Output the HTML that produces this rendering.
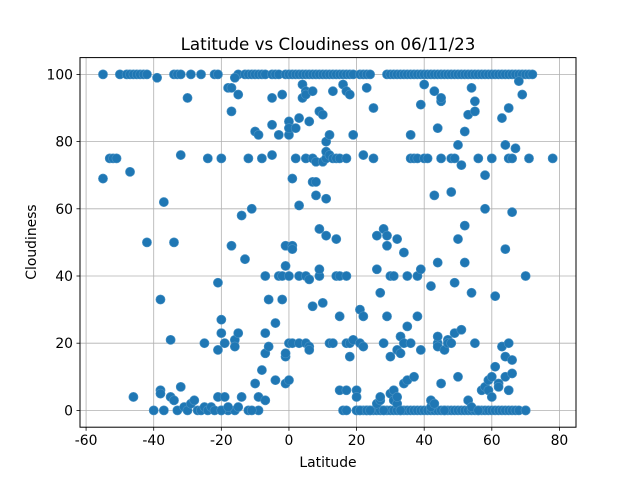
<!DOCTYPE html>
<html><head><meta charset="utf-8"><style>
body{margin:0;background:#fff;}
svg{display:block;font-family:"DejaVu Sans","Liberation Sans",sans-serif;}
</style></head><body>
<svg id="chart" width="640" height="480">
<rect width="640" height="480" fill="#fff"/>
<g id="grid"></g>
<g id="points"></g>
<rect x="80" y="57.6" width="496" height="369.6" fill="none" stroke="#000" stroke-width="1"/>
<g id="ticks"></g>
<text x="328" y="50" text-anchor="middle" font-size="16.7">Latitude vs Cloudiness on 06/11/23</text>
<text x="328" y="467" text-anchor="middle" font-size="13.9">Latitude</text>
<text x="36" y="242" text-anchor="middle" font-size="13.9" transform="rotate(-90 36 242)">Cloudiness</text>
</svg>
<script>
const xTicks=[-60,-40,-20,0,20,40,60,80];
const yTicks=[0,20,40,60,80,100];
const topLats=[-55,-50,-48,-47,-46,-45,-44,-43,-42,-34,-33,-32,-29,-26,-22,-21,-15,-13,-12,-11,-10,-9,-8,-7,-5,-4,-3,-1,0,1,2,3,4,5,6,7,8,9,10,11,12,13,14,15,16,17,18,19,21,22,23,24,29,30,31,32,33,34,35,36,37,38,39,40,41,42,43,44,45,46,47,48,49,50,51,52,53,54,55,56,57,58,59,60,61,62,63,64,65,66,67,68,69,70,71,72];
const zeroLats=[-20,-18,-16,-12,-9,20,21,22,23,24,25,26,27,28,29,30,31,32,33,34,35,36,37,38,39,40,41,42,43,44,45,46,47,48,49,50,51,52,53,54,55,56,57,58,59,60,61,62,63,64,65,66,67,68,70];
const otherLats=[-55,-53,-52,-51,-47,-46,-42,-40,-39,-38,-38,-38,-37,-37,-35,-35,-34,-34,-33,-32,-32,-31,-30,-30,-29,-28,-27,-26,-25,-25,-24,-24,-23,-22,-21,-21,-21,-20,-20,-20,-20,-19,-19,-18,-18,-17,-17,-17,-16,-16,-16,-15,-15,-15,-14,-14,-13,-12,-11,-11,-10,-10,-9,-9,-8,-8,-7,-7,-7,-7,-6,-6,-5,-5,-5,-4,-4,-3,-3,-2,-2,-2,-1,-1,-1,-1,-1,0,0,0,0,0,0,1,1,1,1,2,2,3,3,3,3,4,4,5,5,5,5,5,6,6,6,6,7,7,7,7,8,8,8,9,9,9,9,10,10,10,11,11,11,11,11,12,12,12,13,13,13,14,14,14,15,15,15,15,16,16,17,17,17,17,17,17,18,18,18,19,19,20,20,20,21,21,21,22,22,22,23,23,24,25,25,26,26,26,27,27,27,28,28,28,29,29,29,30,30,30,31,31,31,32,32,32,32,33,33,33,34,34,34,35,35,35,36,36,36,37,37,38,38,38,39,39,39,40,40,41,42,42,42,43,43,43,44,44,44,44,44,45,45,45,45,46,46,47,47,48,48,48,49,49,49,50,50,50,51,51,52,52,52,53,53,54,54,54,55,55,55,56,56,57,58,58,58,59,59,60,60,60,61,61,62,62,63,63,64,64,64,64,65,65,65,65,66,66,66,66,67,68,69,70,70,71,78];
const otherClouds=[69,75,75,75,71,4,50,0,99,33,6,5,62,0,21,4,3,50,0,76,7,1,93,0,2,3,0,0,1,20,75,0,1,0,18,38,4,27,23,75,0,20,4,96,1,89,96,49,99,21,19,23,94,1,4,58,45,75,60,0,8,83,82,4,75,12,40,23,3,17,33,19,85,93,76,9,26,40,82,40,94,33,49,8,16,17,43,86,82,84,40,9,20,49,69,48,20,84,75,20,61,40,87,97,93,75,40,20,95,94,19,18,39,86,75,95,68,31,64,68,74,54,40,42,89,32,74,88,80,75,77,52,63,76,20,82,95,75,20,75,51,40,40,28,75,6,0,97,6,40,20,75,95,0,16,94,20,82,21,6,0,4,30,20,0,19,76,28,96,0,0,90,75,42,2,52,3,35,4,20,54,0,49,28,52,16,40,5,40,6,3,51,2,4,18,22,17,0,47,8,20,25,9,40,75,20,82,75,10,75,40,28,18,91,42,75,97,75,1,3,37,64,2,95,44,84,20,22,19,92,8,93,75,0,18,21,20,20,75,65,75,23,38,10,51,79,73,24,83,44,55,88,3,35,96,1,20,89,92,75,0,6,60,70,7,9,6,75,10,4,34,13,8,7,87,19,16,10,79,48,20,75,6,90,75,59,15,11,78,98,94,40,0,75,75];
const xMin=-61.8,xMax=84.9,yMin=-5,yMax=105;
const L=80,R=576,T=57.6,B=427.2;
const xs=v=>L+(v-xMin)/(xMax-xMin)*(R-L);
const ys=v=>B-(v-yMin)/(yMax-yMin)*(B-T);
const NS='http://www.w3.org/2000/svg';
const grid=document.getElementById('grid'),ticks=document.getElementById('ticks'),pts=document.getElementById('points');
function mk(tag,attrs,parent){const e=document.createElementNS(NS,tag);for(const k in attrs)e.setAttribute(k,attrs[k]);parent.appendChild(e);return e;}
xTicks.forEach(t=>{const x=xs(t);
 const g=mk('line',{x1:x,x2:x,y1:T,y2:B,stroke:'#b0b0b0','stroke-width':0.8},grid);
 
 
 mk('line',{x1:x,x2:x,y1:B,y2:B+3.5,stroke:'#000','stroke-width':0.8},ticks);
 const tx=mk('text',{x:x,y:B+18,'text-anchor':'middle','font-size':13.9},ticks);tx.textContent=t;
 
 });
yTicks.forEach(t=>{const y=ys(t);
 const g=mk('line',{x1:L,x2:R,y1:y,y2:y,stroke:'#b0b0b0','stroke-width':0.8},grid);
 
 
 mk('line',{x1:L-3.5,x2:L,y1:y,y2:y,stroke:'#000','stroke-width':0.8},ticks);
 const tx=mk('text',{x:L-7,y:y+5,'text-anchor':'end','font-size':13.9},ticks);tx.textContent=t;
 
 });
function dot(lat,c){const p=mk('circle',{cx:xs(lat),cy:ys(c),r:4.6,fill:'#1f77b4',stroke:'#4a92c4','stroke-width':0.6},pts);
 
 }
topLats.forEach(l=>dot(l,100));
zeroLats.forEach(l=>dot(l,0));
otherLats.forEach((l,i)=>dot(l,otherClouds[i]));
</script>
</body></html>
